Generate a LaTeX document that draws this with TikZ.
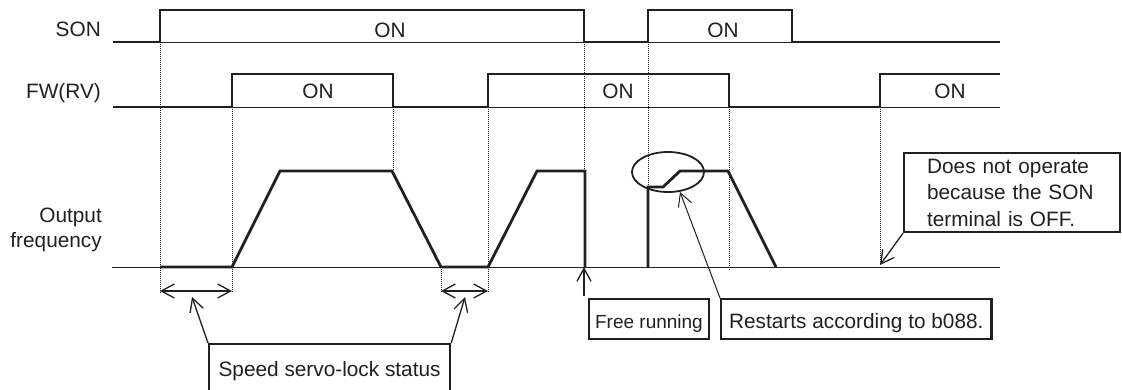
\documentclass[tikz,border=0pt]{standalone}
\usepackage{fontspec}
\setmainfont{Liberation Sans}
\usetikzlibrary{arrows.meta}
\definecolor{ink}{RGB}{35,31,32}
\begin{document}
\begin{tikzpicture}[x=1pt,y=-1pt,line join=miter,
  sig/.style={ink,line width=2.8pt},
  baseln/.style={ink,line width=1pt},
  guide/.style={ink,line width=0.6pt,dash pattern=on 1pt off 1pt},
  lbl/.style={font=\fontsize{20.8}{25}\selectfont,text=ink,inner sep=0pt},
  callout/.style={draw=ink,line width=2.2pt,inner ysep=0pt,text=ink,
    font=\fontsize{20.8}{26.5}\selectfont},
  pointer/.style={ink,line width=1.3pt,-{Straight Barb[length=13pt,width=14pt]}},
  span/.style={ink,line width=1.3pt,{Straight Barb[length=13pt,width=14pt]}-{Straight Barb[length=13pt,width=14pt]}}
]
\useasboundingbox (0,0) rectangle (1122,389);

% ---- row labels
\node[lbl,anchor=base east] (lson) at (101,36.5) {SON};
\node[lbl,anchor=base east] (lfw) at (101,98) {FW(RV)};
\node[lbl,anchor=east,align=right] (lout) at (102,230) {Output\\frequency};

% ---- SON signal
\draw[baseln] (160,42) -- (584,42) (648,42) -- (792,42);
\draw[sig] (113,42) -- (160,42) -- (160,10) -- (584,10) -- (584,42) -- (648,42)
  -- (648,10) -- (792,10) -- (792,42) -- (1000,42);
\node[lbl,anchor=base] (son1) at (390,37) {ON};
\node[lbl,anchor=base] (son2) at (723,37) {ON};

% ---- FW(RV) signal
\draw[baseln] (232,107) -- (393,107) (488,107) -- (729,107) (880,107) -- (1000,107);
\draw[sig] (113,107) -- (232,107) -- (232,74) -- (393,74) -- (393,107) -- (488,107)
  -- (488,74) -- (729,74) -- (729,107) -- (880,107) -- (880,74) -- (1000,74);
\node[lbl,anchor=base] (fw1) at (318,98) {ON};
\node[lbl,anchor=base] (fw2) at (618,98) {ON};
\node[lbl,anchor=base] (fw3) at (950,98) {ON};

% ---- output frequency
\draw[baseln] (112,267) -- (1000,267);
\draw[sig] (160,267) -- (232,267) -- (280,171) -- (392,171) -- (441,267) -- (488,267)
  -- (537,171) -- (585,171) -- (585,267);
\draw[sig] (648,267) -- (648,187) -- (663,187) -- (680,171) -- (728,171) -- (776,267);
\draw[ink,line width=1.8pt] (668,172) ellipse [x radius=36,y radius=20];

% ---- dotted guides
\draw[guide] (160,42) -- (160,293);
\draw[guide] (232,107) -- (232,293);
\draw[guide] (393,107) -- (393,171);
\draw[guide] (441,267) -- (441,293);
\draw[guide] (488,107) -- (488,293);
\draw[guide] (584,42) -- (584,171);
\draw[guide] (648,42) -- (648,187);
\draw[guide] (729,107) -- (729,271);
\draw[guide] (880,107) -- (880,263);

% ---- spans
\coordinate (s1a) at (160,291);
\coordinate (s1b) at (232,291);
\coordinate (s2a) at (441,291);
\coordinate (s2b) at (488,291);
\draw[span] (s1a) -- (s1b);
\draw[span] (s2a) -- (s2b);

% ---- callout boxes
\node[callout,anchor=north west,minimum width=241pt,minimum height=52pt,
  text height=13pt,text depth=0pt] (speed) at (208,343) {Speed servo-lock status};
\node[callout,anchor=north west,minimum height=40pt,inner xsep=6pt,
  text height=19pt,text depth=0pt,font=\fontsize{19}{23}\selectfont] (free) at (588,298) {Free running};
\node[callout,anchor=north west,minimum height=40pt,inner xsep=8pt,
  text height=19pt,text depth=0pt] (restart) at (720,298) {Restarts according to b088.};
\node[callout,anchor=north west,align=left,text width=170pt,inner xsep=23pt,
  minimum height=79pt] (dno) at (903,152) {Does not operate\\because the SON\\terminal is OFF.};

% ---- pointers
\coordinate (p1) at (192,297);
\coordinate (p2) at (465,297);
\draw[pointer] (speed.north west) -- (p1);
\draw[pointer] (speed.north east) -- (p2);
\coordinate (frs) at (584,296);
\coordinate (fre) at (584,267);
\draw[pointer] (frs) -- (fre);
\coordinate (rse) at (680,192);
\draw[pointer,line width=1pt] (restart.north west) -- (rse);
\coordinate (dne) at (880,265);
\draw[pointer] (dno.south west) -- (dne);
\end{tikzpicture}
\end{document}
